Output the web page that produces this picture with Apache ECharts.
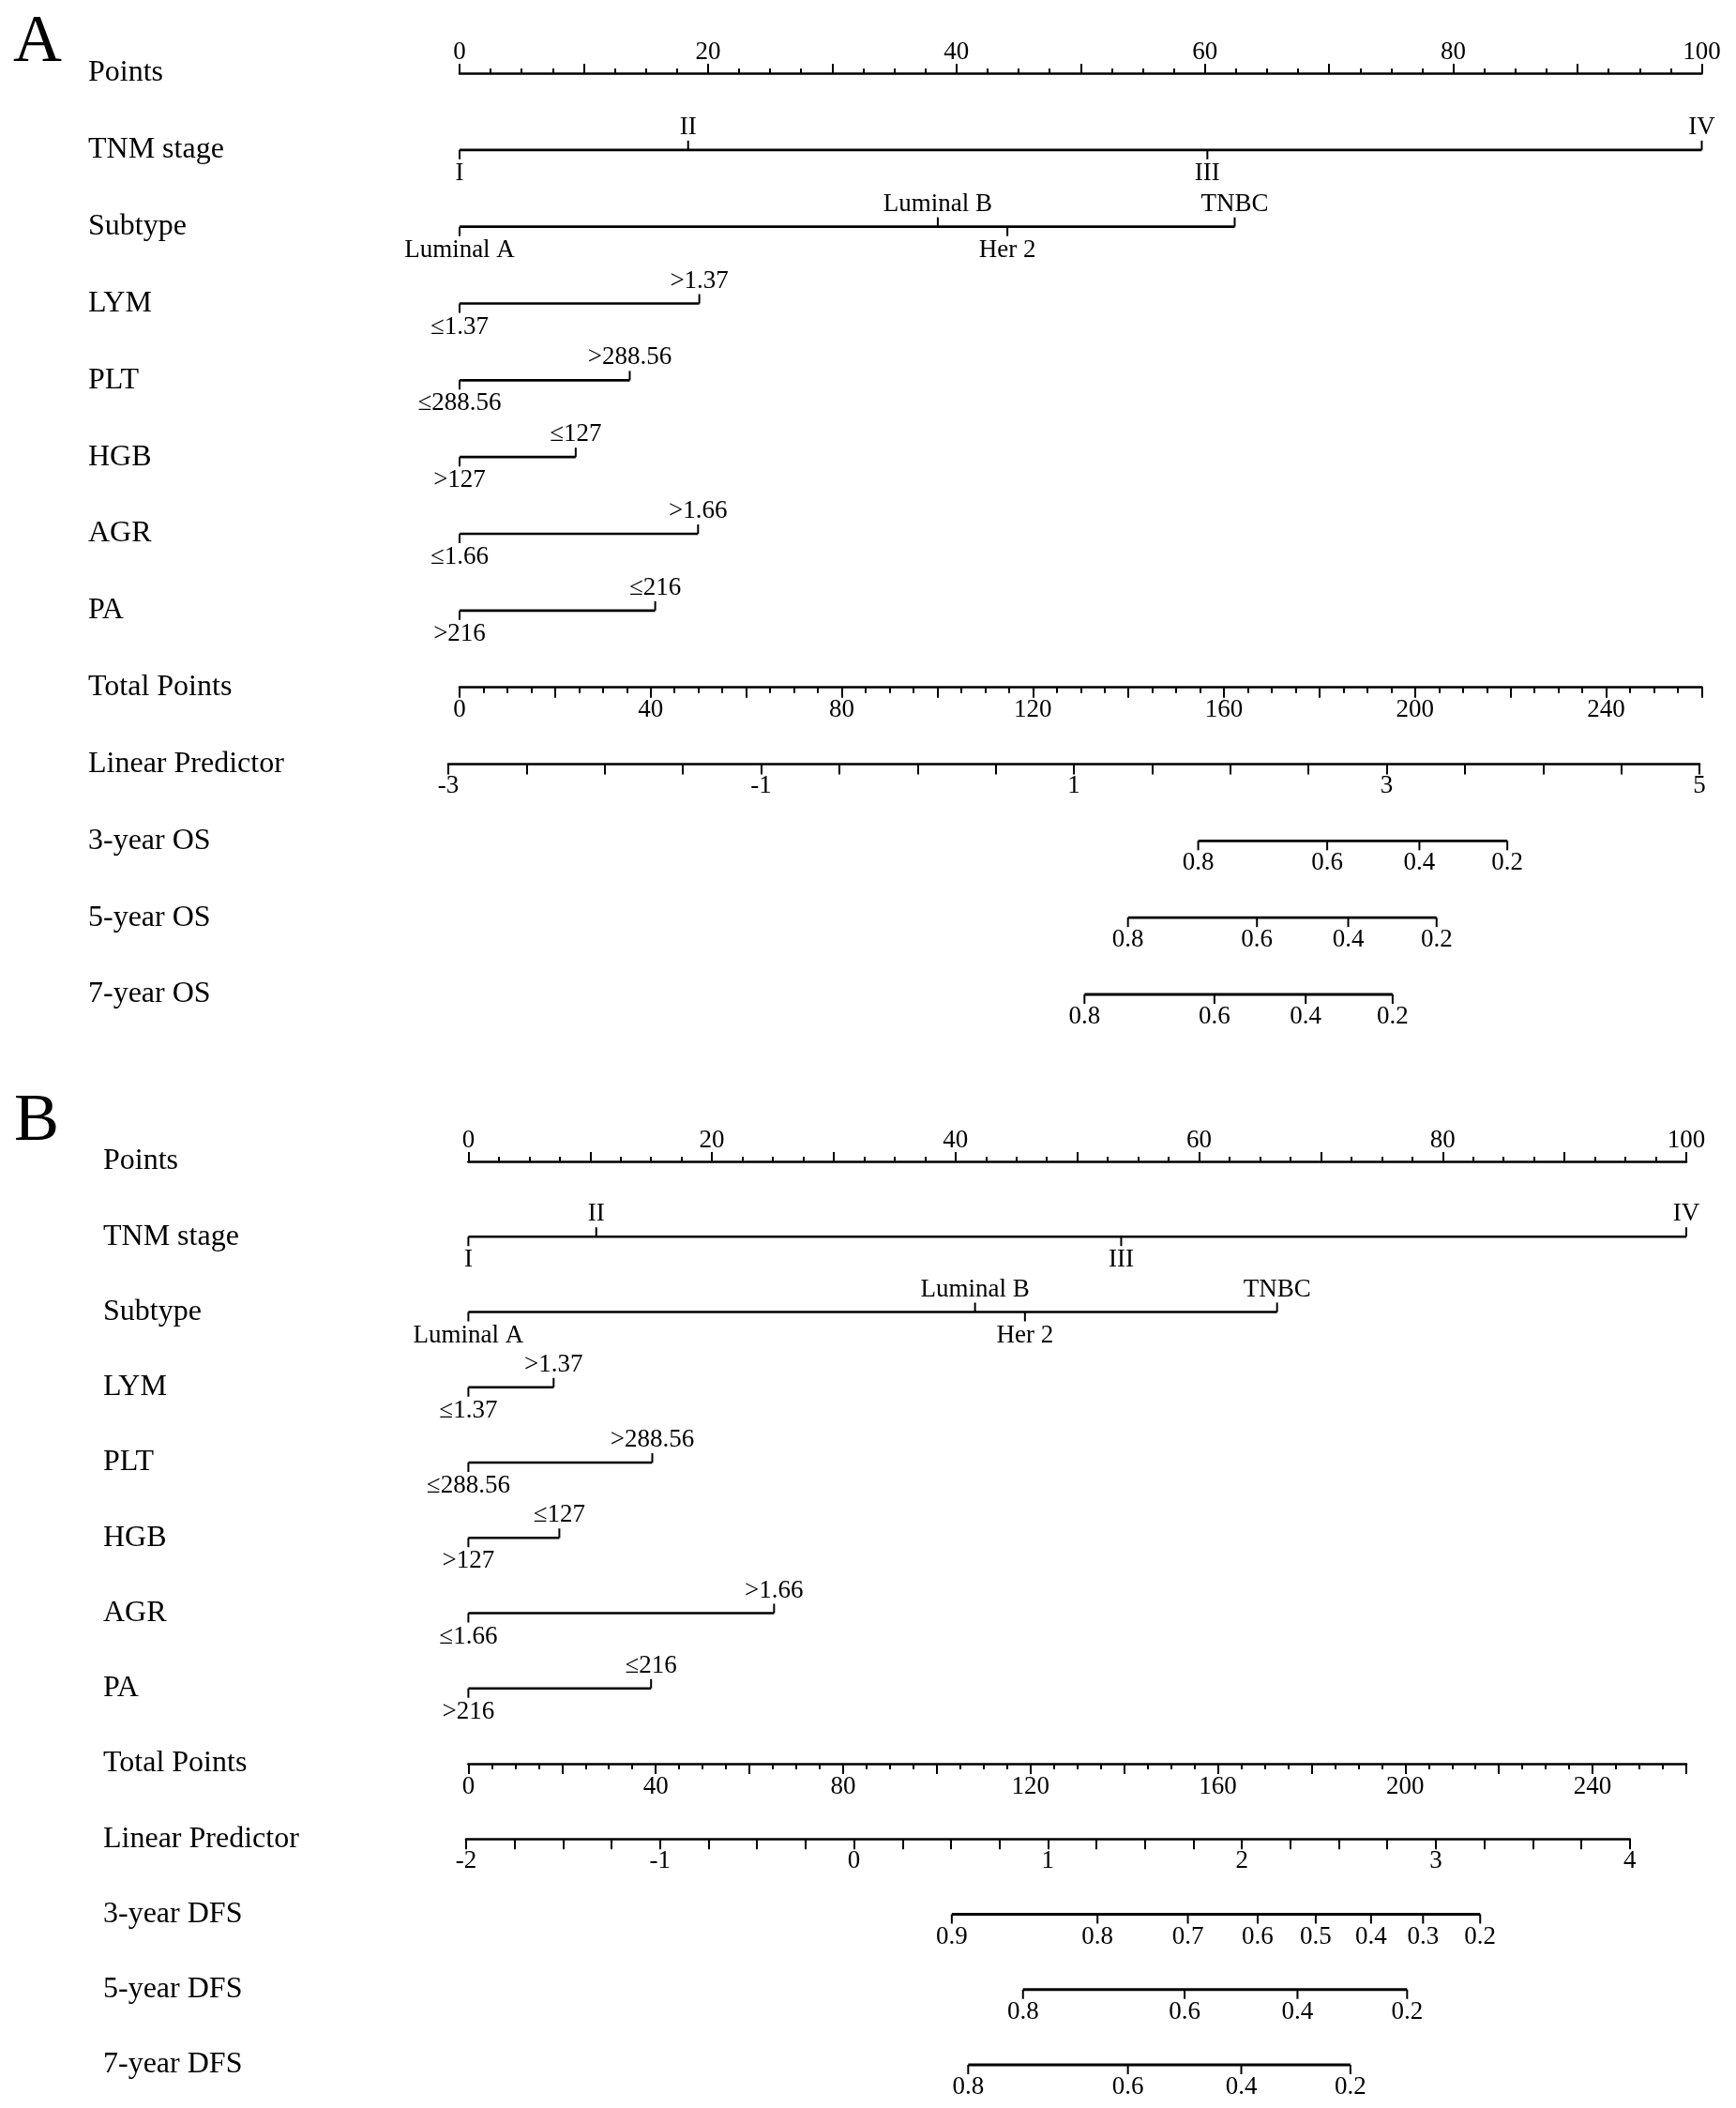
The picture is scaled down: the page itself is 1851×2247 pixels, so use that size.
<!DOCTYPE html>
<html><head><meta charset="utf-8">
<script src="https://cdn.jsdelivr.net/npm/echarts/dist/echarts.min.js"></script>
<style>html,body{margin:0;padding:0;background:#fff}#c{width:1851px;height:2247px}</style>
</head><body><div id="c"></div>
<script>
// ---------------- DATA ----------------
const rowNamesA = ['Points','TNM stage','Subtype','LYM','PLT','HGB','AGR','PA','Total Points','Linear Predictor','3-year OS','5-year OS','7-year OS'];
const rowNamesB = ['Points','TNM stage','Subtype','LYM','PLT','HGB','AGR','PA','Total Points','Linear Predictor','3-year DFS','5-year DFS','7-year DFS'];

const tnmLevels = ['I','II','III','IV'];
const subtypeLevels = ['Luminal A','Luminal B','Her 2','TNBC'];
const lymLevels = ['≤1.37','>1.37'];
const pltLevels = ['≤288.56','>288.56'];
const hgbLevels = ['>127','≤127'];
const agrLevels = ['≤1.66','>1.66'];
const paLevels = ['>216','≤216'];

// points per level (panel A: OS)
const tnmPointsA = [0, 18.4, 60.2, 100];
const subtypePointsA = [0, 38.5, 44.1, 62.4];
const lymPointsA = [0, 19.3];
const pltPointsA = [0, 13.7];
const hgbPointsA = [0, 9.35];
const agrPointsA = [0, 19.2];
const paPointsA = [0, 15.75];

// points per level (panel B: DFS)
const tnmPointsB = [0, 10.5, 53.6, 100];
const subtypePointsB = [0, 41.6, 45.7, 66.4];
const lymPointsB = [0, 7.0];
const pltPointsB = [0, 15.1];
const hgbPointsB = [0, 7.47];
const agrPointsB = [0, 25.1];
const paPointsB = [0, 15.0];

// survival scales: probability labels and matching total points
const os3Labels = ['0.8','0.6','0.4','0.2'];
const os3Total = [154.6, 181.6, 200.9, 219.3];
const os5Labels = ['0.8','0.6','0.4','0.2'];
const os5Total = [139.9, 166.9, 186.0, 204.5];
const os7Labels = ['0.8','0.6','0.4','0.2'];
const os7Total = [130.8, 158.0, 177.1, 195.3];

const dfs3Labels = ['0.9','0.8','0.7','0.6','0.5','0.4','0.3','0.2'];
const dfs3Total = [103.2, 134.3, 153.6, 168.5, 180.9, 192.7, 203.8, 216.0];
const dfs5Labels = ['0.8','0.6','0.4','0.2'];
const dfs5Total = [118.4, 152.9, 177.0, 200.4];
const dfs7Labels = ['0.8','0.6','0.4','0.2'];
const dfs7Total = [106.7, 140.8, 165.0, 188.3];

// axis scales
const pointsRange = [0, 100];
const totalRange = [0, 260];
const lpRangeA = [-3, 5];
const lpRangeB = [-2, 4];

// ---------------- LAYOUT / STYLE ----------------
const FONT = '"Liberation Serif", "Times New Roman", serif';
const TICK_FS = 27, ROW_FS = 32;

const layoutA = {x0: 490, x100: 1814.5, rowTop: 78, rowBottom: 1060, lpLeft: 478, lpRight: 1812, labelX: 94,
  lpInterval: 0.5, lpLabelEvery: 2, letter: 'A', letterLeft: 14, letterMid: 46};
const layoutB = {x0: 499.4, x100: 1798, rowTop: 1238, rowBottom: 2201, lpLeft: 497, lpRight: 1737.7, labelX: 110,
  lpInterval: 0.25, lpLabelEvery: 1, letter: 'B', letterLeft: 15, letterMid: 1196};

const catSpecsA = [
  {row: 1, labels: tnmLevels, points: tnmPointsA},
  {row: 2, labels: subtypeLevels, points: subtypePointsA},
  {row: 3, labels: lymLevels, points: lymPointsA},
  {row: 4, labels: pltLevels, points: pltPointsA},
  {row: 5, labels: hgbLevels, points: hgbPointsA},
  {row: 6, labels: agrLevels, points: agrPointsA},
  {row: 7, labels: paLevels, points: paPointsA}
];
const catSpecsB = [
  {row: 1, labels: tnmLevels, points: tnmPointsB},
  {row: 2, labels: subtypeLevels, points: subtypePointsB},
  {row: 3, labels: lymLevels, points: lymPointsB},
  {row: 4, labels: pltLevels, points: pltPointsB},
  {row: 5, labels: hgbLevels, points: hgbPointsB},
  {row: 6, labels: agrLevels, points: agrPointsB},
  {row: 7, labels: paLevels, points: paPointsB}
];
const survSpecsA = [
  {row: 10, labels: os3Labels, points: os3Total},
  {row: 11, labels: os5Labels, points: os5Total},
  {row: 12, labels: os7Labels, points: os7Total}
];
const survSpecsB = [
  {row: 10, labels: dfs3Labels, points: dfs3Total},
  {row: 11, labels: dfs5Labels, points: dfs5Total},
  {row: 12, labels: dfs7Labels, points: dfs7Total}
];

function txt(text, x, y) {
  return {type: 'text', style: {text: text, x: x, y: y, fill: '#000', font: TICK_FS + 'px ' + FONT, align: 'center', verticalAlign: 'middle'}};
}
function seg(x1, y1, x2, y2, w) {
  return {type: 'line', shape: {x1: x1, y1: y1, x2: x2, y2: y2}, style: {stroke: '#000', lineWidth: w, lineCap: 'butt'}};
}

function catRender(specs) {
  return function (params, api) {
    const s = specs[params.dataIndex];
    const y = api.coord([0, s.row])[1];
    const xs = s.points.map(v => api.coord([v, s.row])[0]);
    const children = [seg(Math.min.apply(null, xs), y, Math.max.apply(null, xs), y, 2.6)];
    xs.forEach((x, i) => {
      const down = i % 2 === 0;
      children.push(seg(x, y, x, down ? y + 10 : y - 10, 2));
      children.push(txt(s.labels[i], x, down ? y + 25 : y - 24));
    });
    return {type: 'group', children: children};
  };
}
function survRender(specs) {
  return function (params, api) {
    const s = specs[params.dataIndex];
    const y = api.coord([0, s.row])[1];
    const xs = s.points.map(v => api.coord([v, s.row])[0]);
    const children = [seg(Math.min.apply(null, xs), y, Math.max.apply(null, xs), y, 2.8)];
    xs.forEach((x, i) => {
      children.push(seg(x, y, x, y + 10, 2));
      children.push(txt(s.labels[i], x, y + 24));
    });
    return {type: 'group', children: children};
  };
}

function visAxis(gridIndex, range, interval, position, tickLen, minorSplit, minorLen, labelFn, margin) {
  return {
    type: 'value', gridIndex: gridIndex, min: range[0], max: range[1], interval: interval, position: position,
    axisLine: {show: true, onZero: false, lineStyle: {color: '#000', width: 2.6}},
    axisTick: {show: true, length: tickLen, lineStyle: {color: '#000', width: 2}},
    minorTick: minorSplit ? {show: true, splitNumber: minorSplit, length: minorLen, lineStyle: {color: '#000', width: 2}} : {show: false},
    splitLine: {show: false}, minorSplitLine: {show: false},
    axisLabel: {show: true, margin: margin, color: '#000', fontSize: TICK_FS, fontFamily: FONT, formatter: labelFn, showMinLabel: true, showMaxLabel: true}
  };
}

const option = {animation: false, backgroundColor: '#fff', title: [], grid: [], xAxis: [], yAxis: [], series: []};

function addPanel(L, rowNames, catSpecs, survSpecs, lpRange) {
  const g0 = option.grid.length, x0i = option.xAxis.length, y0i = option.yAxis.length;
  const width = L.x100 - L.x0;
  const step = (L.rowBottom - L.rowTop) / 12;
  const rowY = i => L.rowTop + i * step;
  option.grid.push({left: L.x0, top: L.rowTop, width: width, height: L.rowBottom - L.rowTop});
  option.grid.push({left: L.x0, top: rowY(0), width: width, height: 10});
  option.grid.push({left: L.x0, top: rowY(8) - 10, width: width, height: 10});
  option.grid.push({left: L.lpLeft, top: rowY(9) - 10, width: L.lpRight - L.lpLeft, height: 10});

  option.xAxis.push({type: 'value', gridIndex: g0, min: pointsRange[0], max: pointsRange[1], show: false});
  option.xAxis.push({type: 'value', gridIndex: g0, min: totalRange[0], max: totalRange[1], show: false});
  option.xAxis.push(visAxis(g0 + 1, pointsRange, 10, 'top', 10, 4, 5, v => (v % 20 === 0 ? String(v) : ''), 9));
  option.xAxis.push(visAxis(g0 + 2, totalRange, 20, 'bottom', 11, 4, 6, v => (v % 40 === 0 ? String(v) : ''), 11));
  option.xAxis.push(visAxis(g0 + 3, lpRange, L.lpInterval, 'bottom', 11, 0, 0,
    v => (Math.abs(((v - lpRange[0]) / L.lpLabelEvery) - Math.round((v - lpRange[0]) / L.lpLabelEvery)) < 1e-6 ? String(v) : ''), 10));

  option.yAxis.push({type: 'category', gridIndex: g0, data: rowNames, inverse: true, boundaryGap: false,
    axisLine: {show: false}, axisTick: {show: false}, splitLine: {show: false},
    axisLabel: {show: true, interval: 0, align: 'left', margin: L.x0 - L.labelX, color: '#000', fontSize: ROW_FS, fontFamily: FONT, padding: [0, 0, 10, 0]}});
  for (let k = 1; k <= 3; k++) option.yAxis.push({type: 'value', gridIndex: g0 + k, min: 0, max: 1, show: false});

  option.series.push({type: 'custom', xAxisIndex: x0i, yAxisIndex: y0i, renderItem: catRender(catSpecs),
    data: catSpecs.map(s => [0, s.row]), silent: true, clip: false});
  option.series.push({type: 'custom', xAxisIndex: x0i + 1, yAxisIndex: y0i, renderItem: survRender(survSpecs),
    data: survSpecs.map(s => [0, s.row]), silent: true, clip: false});

  option.title.push({text: L.letter, left: L.letterLeft, top: L.letterMid - 36, padding: 0,
    textStyle: {fontSize: 72, fontFamily: FONT, fontWeight: 'normal', color: '#000', lineHeight: 72}});
}

addPanel(layoutA, rowNamesA, catSpecsA, survSpecsA, lpRangeA);
addPanel(layoutB, rowNamesB, catSpecsB, survSpecsB, lpRangeB);

const chart = echarts.init(document.getElementById('c'), null, {renderer: 'canvas', width: 1851, height: 2247});
chart.setOption(option);
</script>
</body></html>
